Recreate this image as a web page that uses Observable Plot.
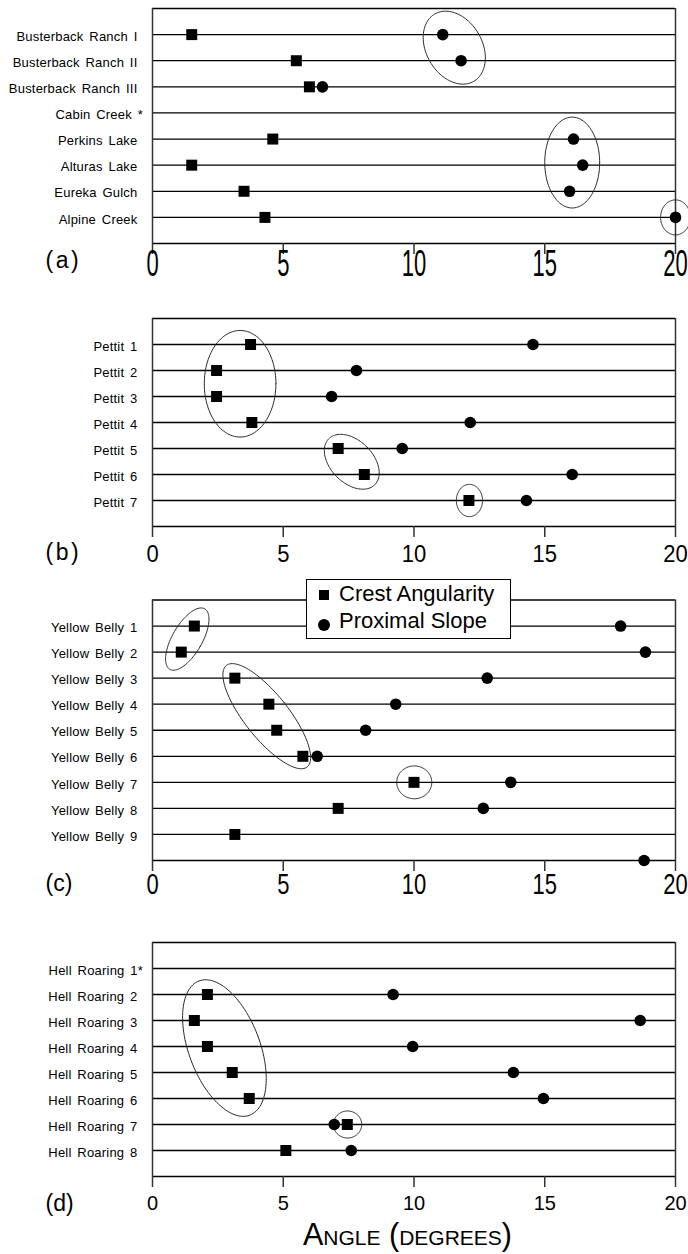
<!DOCTYPE html>
<html>
<head>
<meta charset="utf-8">
<script src="https://cdn.jsdelivr.net/npm/d3@7"></script>
<script src="https://cdn.jsdelivr.net/npm/@observablehq/plot@0.6"></script>
<style>
  body { margin: 0; background: #fff; }
  #wrap { position: relative; width: 688px; height: 1254px; overflow: hidden; }
  #wrap svg { display: block; }
  #legend { position: absolute; left: 306px; top: 579px; width: 205px; height: 60px; box-sizing: border-box;
            border: 1.5px solid #000; background: #fff; font-family: "Liberation Sans", Arial, sans-serif;
            font-size: 22px; color: #000; }
  #legend .sq { position: absolute; left: 12px; top: 9.5px; width: 10px; height: 10px; background: #000; }
  #legend .ci { position: absolute; left: 11px; top: 38.5px; width: 12px; height: 12px; border-radius: 50%; background: #000; }
  #legend .t { position: absolute; left: 32px; line-height: 22px; white-space: nowrap; }
</style>
</head>
<body>
<div id="wrap">
  <div id="legend">
    <span class="sq"></span><span class="t" style="top:3px">Crest Angularity</span>
    <span class="ci"></span><span class="t" style="top:30px">Proximal Slope</span>
  </div>
</div>
<script>
// ---------- data (angles in degrees) ----------
const aLabels = ["Busterback Ranch I", "Busterback Ranch II", "Busterback Ranch III", "Cabin Creek *",
                 "Perkins Lake", "Alturas Lake", "Eureka Gulch", "Alpine Creek"];
const aCrest = [1.5, 5.5, 6.0, null, 4.6, 1.5, 3.5, 4.3];
const aSlope = [11.1, 11.8, 6.5, null, 16.1, 16.45, 15.95, 20.0];

const bLabels = ["Pettit 1", "Pettit 2", "Pettit 3", "Pettit 4", "Pettit 5", "Pettit 6", "Pettit 7"];
const bCrest = [3.75, 2.45, 2.45, 3.8, 7.1, 8.1, 12.1];
const bSlope = [14.55, 7.8, 6.85, 12.15, 9.55, 16.05, 14.3];

const cLabels = ["Yellow Belly 1", "Yellow Belly 2", "Yellow Belly 3", "Yellow Belly 4", "Yellow Belly 5",
                 "Yellow Belly 6", "Yellow Belly 7", "Yellow Belly 8", "Yellow Belly 9"];
const cCrest = [1.6, 1.1, 3.15, 4.45, 4.75, 5.75, 10.0, 7.1, 3.15];
// the source draws Yellow Belly 9's proximal slope on the axis line below its row
const cSlope = [17.9, 18.85, 12.8, 9.3, 8.15, 6.3, 13.7, 12.65, null, 18.8];

const dLabels = ["Hell Roaring 1*", "Hell Roaring 2", "Hell Roaring 3", "Hell Roaring 4",
                 "Hell Roaring 5", "Hell Roaring 6", "Hell Roaring 7", "Hell Roaring 8"];
const dCrest = [null, 2.1, 1.6, 2.1, 3.05, 3.7, 7.45, 5.1];
const dSlope = [null, 9.2, 18.65, 9.95, 13.8, 14.95, 6.95, 7.6];

const xTicks = [0, 5, 10, 15, 20];
const panelTags = ["(a)", "(b)", "(c)", "(d)"];
const axisTitle = "Angle (degrees)";

// circled groups: [centre angle, centre row, half-width (deg), half-height (rows), tilt (deg)]
const aGroups = [[11.54, 1.5, 1.07, 1.49, -30], [16.05, 5.9, 1.05, 1.74, 0], [20, 8, 0.57, 0.67, 0]];
const bGroups = [[3.35, 2.51, 1.37, 2.05, 0], [7.62, 5.51, 0.81, 1.25, -45], [12.12, 7, 0.5, 0.62, 0]];
const cGroups = [[1.33, 1.5, 0.57, 1.34, 30], [4.37, 4.46, 0.84, 2.49, -38.5], [10.01, 7, 0.67, 0.63, 0]];
const dGroups = [[2.75, 4.06, 1.36, 2.76, -20.7], [7.46, 7, 0.54, 0.52, 0]];

// ---------- drawing ----------
const FONT = '"Liberation Sans", Arial, Helvetica, sans-serif';
const W = 688, ML = 152, MR = 13;

function ellipsePoints(groups, kx, ky) {
  return groups.flatMap(([cx, cy, rx, ry, tilt], k) => {
    const phi = tilt * Math.PI / 180;
    return d3.range(0, 121).map(j => {
      const t = j / 120 * 2 * Math.PI;
      const ex = rx * kx * Math.cos(t), ey = ry * ky * Math.sin(t);
      const px = ex * Math.cos(phi) - ey * Math.sin(phi);
      const py = ex * Math.sin(phi) + ey * Math.cos(phi);
      return {k, x: cx + px / kx, y: cy + py / ky};
    });
  });
}

function panel(o) {
  const n = o.labels.length;
  const top = n + 1;
  const plotH = o.height - o.mt - o.mb;
  const kx = (W - ML - MR) / 20, ky = plotH / top;
  const crestPts = o.crest.map((v, i) => ({x: v, row: i + 1})).filter(d => d.x != null);
  const slopePts = o.slope.map((v, i) => ({x: v, row: i + 1})).filter(d => d.x != null);
  const labs = o.labels.map((l, i) => ({label: l, row: i + 1}));
  const plain = labs.filter(d => !d.label.endsWith("*"));
  const starred = labs.filter(d => d.label.endsWith("*"));
  const ell = ellipsePoints(o.groups, kx, ky);
  const tickExt = top + 11 / ky;
  const labOpts = {x: () => 0, y: "row", text: "label", textAnchor: "end", lineAnchor: "middle",
                   dy: 2, fontSize: 13, fontFamily: FONT, fill: "#000"};
  const marks = [
    Plot.ruleY(d3.range(0, top + 1), {y: d => d, x1: 0, x2: 20, stroke: "#000", strokeWidth: 1.3}),
    Plot.ruleX([0, 20], {x: d => d, y1: 0, y2: top, stroke: "#333", strokeWidth: 1.5}),
    Plot.ruleX(xTicks, {x: d => d, y1: top, y2: tickExt, stroke: "#333", strokeWidth: 1.5}),
    Plot.line(ell, {x: "x", y: "y", z: "k", stroke: "#2a2a2a", strokeWidth: 1, curve: "linear"}),
    Plot.dot(slopePts, {x: "x", y: "row", r: 5.8, fill: "#000", stroke: "none"}),
    Plot.dot(crestPts, {x: "x", y: "row", symbol: "square", r: 6.2, fill: "#000", stroke: "none"}),
    Plot.text(plain, {...labOpts, dx: -15}),
    Plot.text(starred, {...labOpts, dx: -9.5}),
    Plot.text(xTicks, {x: d => d, y: () => top, text: d => String(d), dy: o.tickDy, lineAnchor: "middle",
                       fontSize: o.tickFont, fontFamily: FONT, fill: "#000"}),
    Plot.text([o.tag], {frameAnchor: "bottom-left", dx: 45 - ML, dy: o.tagDy, textAnchor: "start",
                        lineAnchor: "middle", fontSize: 23, fontFamily: FONT, fill: "#000"})
  ];
  if (o.title) {
    marks.push(Plot.text([o.title], {frameAnchor: "bottom", dx: -6.5, dy: 59.2, lineAnchor: "middle",
                                     fontSize: 30.5, fontVariant: "small-caps", fontFamily: FONT, fill: "#000"}));
  }
  const svg = Plot.plot({
    width: W, height: o.height, marginLeft: ML, marginRight: MR, marginTop: o.mt, marginBottom: o.mb,
    x: {domain: [0, 20], axis: null},
    y: {domain: [0, top], reverse: true, axis: null},
    style: {background: "#fff", color: "#000", fontFamily: FONT, overflow: "visible"},
    marks
  });
  const tickSet = new Set(xTicks.map(String));
  const labSet = new Set(o.labels);
  d3.select(svg).selectAll("text").each(function() {
    const s = this.textContent;
    if (tickSet.has(s)) {
      // tick labels are vertically stretched in the source: scale each about its own anchor
      const tr = this.getAttribute("transform");
      if (tr) {
        this.setAttribute("transform", `${tr} scale(1,${o.tickSy})`);
      } else {
        const x = +this.getAttribute("x") || 0, y = +this.getAttribute("y") || 0;
        this.setAttribute("transform", `translate(${x},${y}) scale(1,${o.tickSy}) translate(${-x},${-y})`);
      }
    } else if (labSet.has(s)) {
      this.style.letterSpacing = "0.2px";
      this.style.wordSpacing = "2px";
    } else if (s === o.tag && o.tagSpaced) {
      this.style.letterSpacing = "2.5px";
    }
  });
  return svg;
}

const wrap = document.getElementById("wrap");
const legend = document.getElementById("legend");
const panels = [
  {labels: aLabels, crest: aCrest, slope: aSlope, groups: aGroups, tag: panelTags[0], tagSpaced: true,
   height: 290, mt: 8, mb: 47, tickFont: 22, tickDy: 21, tickSy: 1.7, tagDy: 17},
  {labels: bLabels, crest: bCrest, slope: bSlope, groups: bGroups, tag: panelTags[1], tagSpaced: true,
   height: 285, mt: 28, mb: 49, tickFont: 22, tickDy: 28.3, tickSy: 1.06, tagDy: 26},
  {labels: cLabels, crest: cCrest, slope: cSlope, groups: cGroups, tag: panelTags[2], tagSpaced: false,
   height: 325, mt: 24.5, mb: 40, tickFont: 22, tickDy: 24.5, tickSy: 1.33, tagDy: 23},
  {labels: dLabels, crest: dCrest, slope: dSlope, groups: dGroups, tag: panelTags[3], tagSpaced: false,
   height: 354, mt: 42, mb: 78, tickFont: 20, tickDy: 27.2, tickSy: 1.05, tagDy: 27, title: axisTitle}
];
for (const p of panels) wrap.insertBefore(panel(p), legend);
</script>
</body>
</html>
